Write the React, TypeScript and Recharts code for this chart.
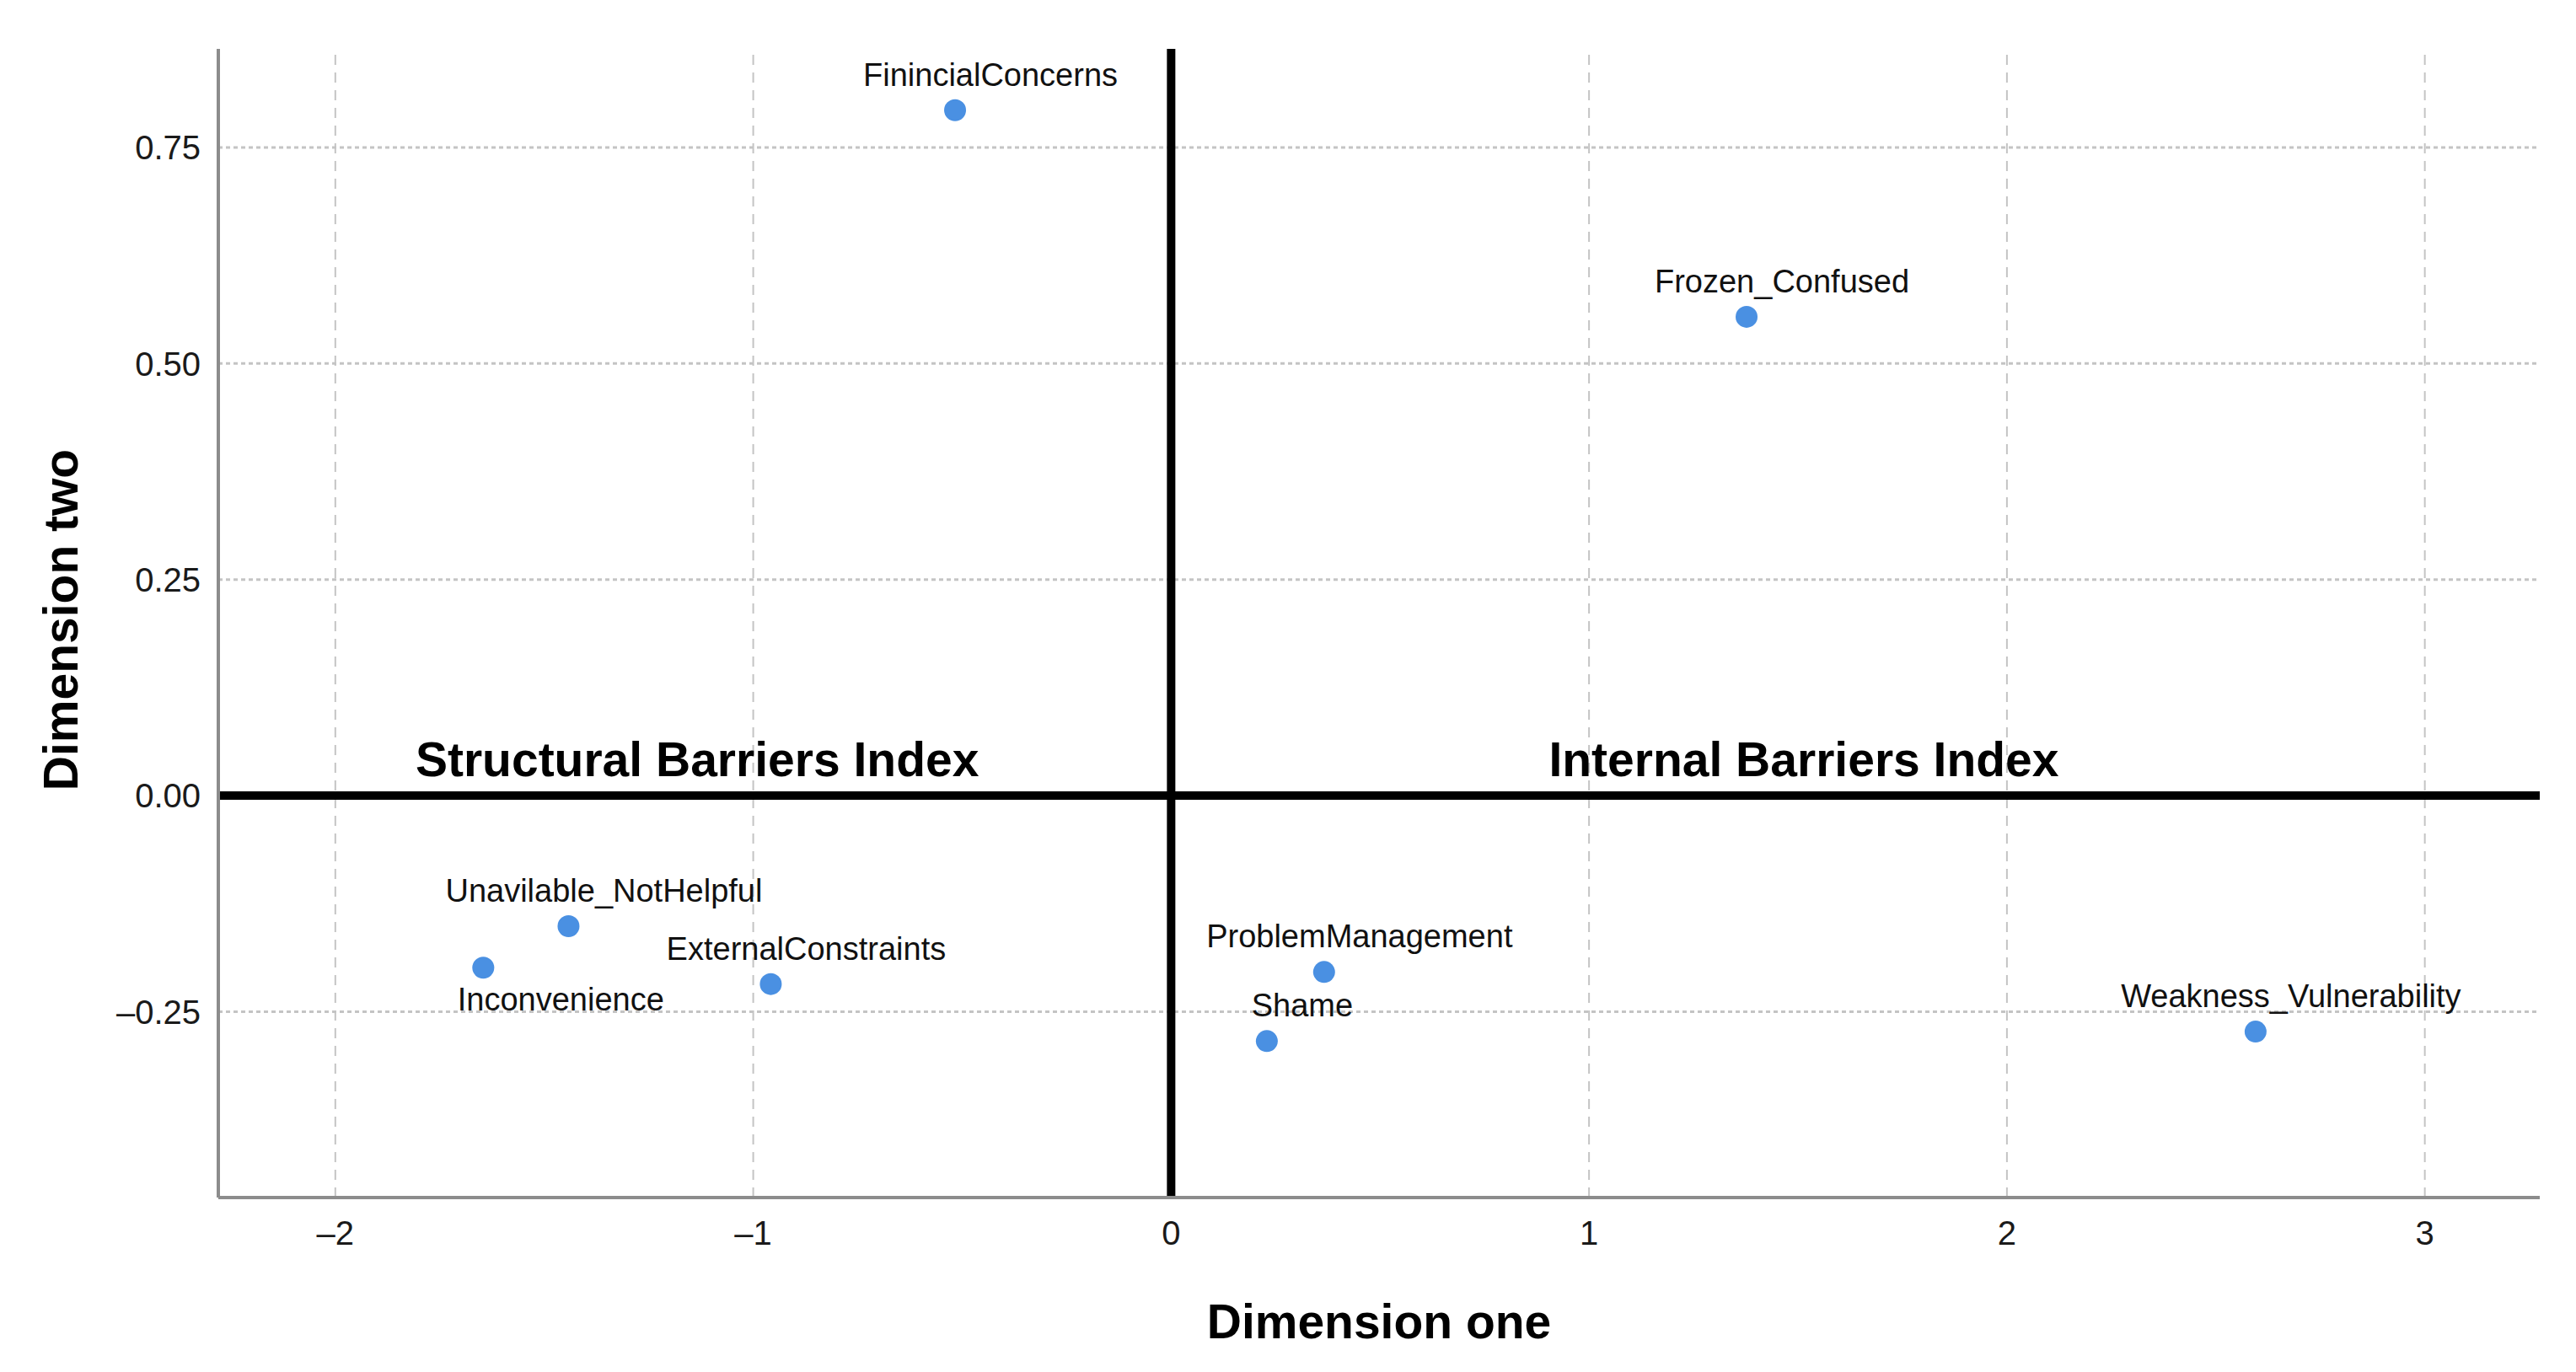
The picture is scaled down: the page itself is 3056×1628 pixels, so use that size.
import {
  ReferenceDot,
  ReferenceLine,
  Scatter,
  ScatterChart,
  XAxis,
  YAxis,
} from 'recharts'

// point names and their two dimension scores
const pointNames = [
  'FinincialConcerns',
  'Frozen_Confused',
  'Unavilable_NotHelpful',
  'Inconvenience',
  'ExternalConstraints',
  'ProblemManagement',
  'Shame',
  'Weakness_Vulnerability',
]
const dimOne = [-0.517, 1.377, -1.442, -1.646, -0.958, 0.366, 0.229, 2.595]
const dimTwo = [0.793, 0.554, -0.151, -0.199, -0.218, -0.204, -0.284, -0.273]

// labels drawn under their point instead of above
const labelsBelow = ['Inconvenience']

const xTicks = [-2, -1, 0, 1, 2, 3]
const yTicks = [-0.25, 0, 0.25, 0.5, 0.75]
const xDomain = [-2.28, 3.275]
const yDomain = [-0.465, 0.864]

const quadrantNames = ['Structural Barriers Index', 'Internal Barriers Index']
const quadrantX = [-1.134, 1.514]

const points = pointNames.map((name, i) => ({ name, x: dimOne[i], y: dimTwo[i] }))

const DASH = '\u2013'
const fmtX = (v: number) => (v < 0 ? DASH + Math.abs(v) : String(v))
const fmtY = (v: number) => (v < 0 ? DASH + Math.abs(v).toFixed(2) : v.toFixed(2))

function PointShape(props: any) {
  const { cx, cy, payload } = props
  const below = labelsBelow.includes(payload.name)
  return (
    <g>
      <circle cx={cx} cy={cy} r={13} fill="#4a90e2" />
      <text
        x={cx + (below ? 92 : 42)}
        y={cy + (below ? 51 : -29)}
        textAnchor="middle"
        fontSize={38}
        fill="#111"
      >
        {payload.name}
      </text>
    </g>
  )
}

function YTitle(props: any) {
  const { viewBox } = props
  const x = viewBox.x + 92
  const y = viewBox.y + viewBox.height / 2 - 4
  return (
    <text
      x={x}
      y={y}
      transform={`rotate(-90 ${x} ${y})`}
      textAnchor="middle"
      fontSize={57}
      fontWeight={700}
      fill="#000"
    >
      Dimension two
    </text>
  )
}

export default function App() {
  return (
    <div
      style={{
        position: 'absolute',
        left: 0,
        top: 0,
        width: 3056,
        height: 1628,
        background: '#fff',
        fontFamily: '"Liberation Sans", Arial, sans-serif',
      }}
    >
      <ScatterChart
        width={3056}
        height={1628}
        margin={{ top: 58, right: 43, left: 0, bottom: 0 }}
      >
        <XAxis
          type="number"
          dataKey="x"
          domain={xDomain}
          ticks={xTicks}
          interval={0}
          allowDataOverflow
          height={207}
          tickLine={false}
          tickMargin={22}
          tickFormatter={fmtX}
          tick={{ fontSize: 40, fill: '#1a1a1a' }}
          axisLine={{ stroke: '#8c8c8c', strokeWidth: 4 }}
          label={{
            value: 'Dimension one',
            position: 'insideBottom',
            offset: 40,
            fontSize: 57,
            fontWeight: 700,
            fill: '#000',
          }}
        />
        <YAxis
          type="number"
          dataKey="y"
          domain={yDomain}
          ticks={yTicks}
          interval={0}
          allowDataOverflow
          width={259}
          tickLine={false}
          tickMargin={15}
          tickFormatter={fmtY}
          tick={{ fontSize: 40, fill: '#1a1a1a' }}
          axisLine={{ stroke: '#8c8c8c', strokeWidth: 4 }}
          label={<YTitle />}
        />
        {/* grid: dashed verticals, dotted horizontals */}
        {xTicks.filter(t => t !== 0).map(t => (
          <ReferenceLine key={'gx' + t} x={t} stroke="#c4c4c4" strokeWidth={2} strokeDasharray="12 9" />
        ))}
        {yTicks.filter(t => t !== 0).map(t => (
          <ReferenceLine key={'gy' + t} y={t} stroke="#c4c4c4" strokeWidth={3} strokeDasharray="5 4" />
        ))}
        <ReferenceLine x={0} stroke="#000" strokeWidth={10} />
        <ReferenceLine y={0} stroke="#000" strokeWidth={10} />
        {quadrantNames.map((q, i) => (
          <ReferenceDot
            key={q}
            x={quadrantX[i]}
            y={0}
            r={0}
            stroke="none"
            fill="none"
            label={{
              value: q,
              position: 'top',
              offset: 23,
              fontSize: 57,
              fontWeight: 700,
              fill: '#000',
            }}
          />
        ))}
        <Scatter data={points} shape={PointShape} isAnimationActive={false} />
      </ScatterChart>
    </div>
  )
}
